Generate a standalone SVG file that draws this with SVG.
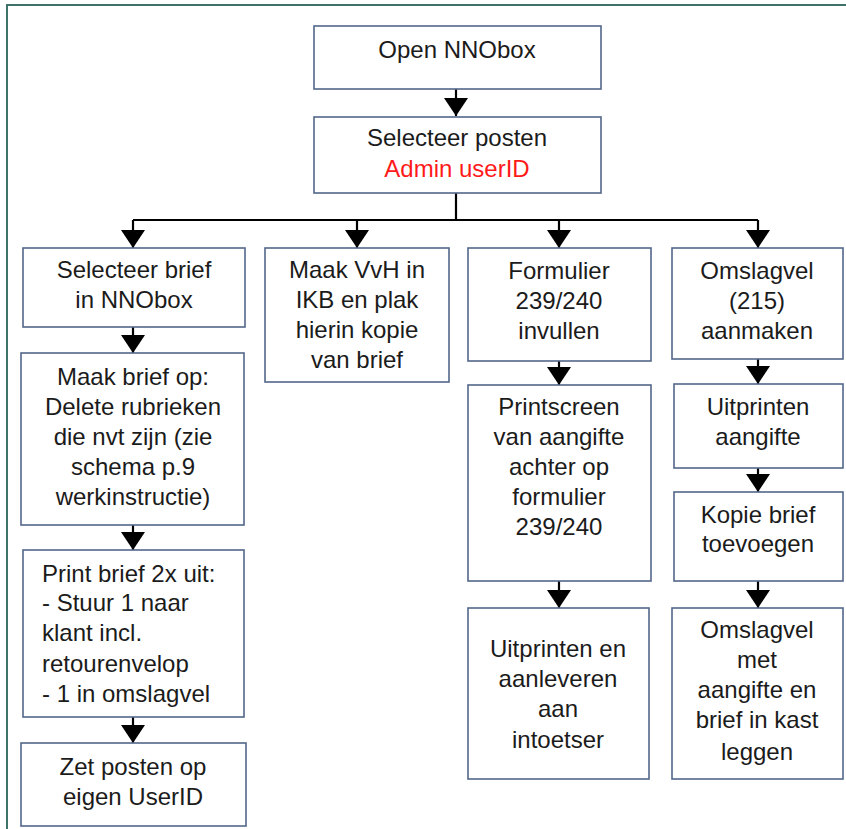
<svg xmlns="http://www.w3.org/2000/svg" width="846" height="829" viewBox="0 0 846 829">
  <style>
    .box { fill: #ffffff; stroke: #53678a; stroke-width: 1.6; }
    .t { font-family: "Liberation Sans", Arial, sans-serif; font-size: 24px; fill: #1b1b1b; text-anchor: middle; }
    .l { text-anchor: start; }
    .red { fill: #ff1a1a; }
    .conn { fill: none; stroke: #000000; stroke-width: 2.2; }
  </style>
  <defs>
    <marker id="arrow" markerUnits="userSpaceOnUse" viewBox="0 0 18 24" refX="18" refY="12" markerWidth="18" markerHeight="24" orient="auto">
      <path d="M0,0 L18,12 L0,24 z" fill="#000000"/>
    </marker>
  </defs>

  <rect x="0" y="0" width="846" height="829" fill="#ffffff"/>

  <!-- page frame -->
  <path d="M7,829 V5 H846" fill="none" stroke="#3f7268" stroke-width="2"/>

  <!-- connectors -->
  <g id="connectors">
    <path class="conn" d="M456,89 V116" marker-end="url(#arrow)"/>
    <path class="conn" d="M456,193 V220 M133,220 H758"/>
    <path class="conn" d="M133,220 V248" marker-end="url(#arrow)"/>
    <path class="conn" d="M357,220 V248" marker-end="url(#arrow)"/>
    <path class="conn" d="M559,220 V248" marker-end="url(#arrow)"/>
    <path class="conn" d="M758,220 V248" marker-end="url(#arrow)"/>
    <path class="conn" d="M133,327 V353" marker-end="url(#arrow)"/>
    <path class="conn" d="M133,525 V550" marker-end="url(#arrow)"/>
    <path class="conn" d="M133,717 V743" marker-end="url(#arrow)"/>
    <path class="conn" d="M559,361 V385" marker-end="url(#arrow)"/>
    <path class="conn" d="M559,581 V608" marker-end="url(#arrow)"/>
    <path class="conn" d="M758,359 V384" marker-end="url(#arrow)"/>
    <path class="conn" d="M758,468 V492" marker-end="url(#arrow)"/>
    <path class="conn" d="M758,581 V608" marker-end="url(#arrow)"/>
  </g>

  <g id="open-nnobox">
    <rect class="box" x="314" y="26" width="287" height="63"/>
    <text class="t" x="457" y="58">Open NNObox</text>
  </g>

  <g id="selecteer-posten">
    <rect class="box" x="314" y="117" width="287" height="76"/>
    <text class="t" x="457" y="146">Selecteer posten</text>
    <text class="t red" x="457" y="177">Admin userID</text>
  </g>

  <g id="selecteer-brief">
    <rect class="box" x="23" y="248" width="222" height="79"/>
    <text class="t" x="134" y="278">Selecteer brief</text>
    <text class="t" x="134" y="308">in NNObox</text>
  </g>

  <g id="maak-brief-op">
    <rect class="box" x="21" y="353" width="223" height="172"/>
    <text class="t" x="133" y="385">Maak brief op:</text>
    <text class="t" x="133" y="415">Delete rubrieken</text>
    <text class="t" x="133" y="445">die nvt zijn (zie</text>
    <text class="t" x="133" y="475">schema p.9</text>
    <text class="t" x="133" y="505">werkinstructie)</text>
  </g>

  <g id="print-brief">
    <rect class="box" x="23" y="550" width="221" height="167"/>
    <text class="t l" x="42" y="582">Print brief 2x uit:</text>
    <text class="t l" x="42" y="611">- Stuur 1 naar</text>
    <text class="t l" x="42" y="641">klant incl.</text>
    <text class="t l" x="42" y="672">retourenvelop</text>
    <text class="t l" x="42" y="702">- 1 in omslagvel</text>
  </g>

  <g id="zet-posten">
    <rect class="box" x="21" y="743" width="225" height="83"/>
    <text class="t" x="133" y="775">Zet posten op</text>
    <text class="t" x="133" y="805">eigen UserID</text>
  </g>

  <g id="maak-vvh">
    <rect class="box" x="265" y="248" width="184" height="134"/>
    <text class="t" x="357" y="278">Maak VvH in</text>
    <text class="t" x="357" y="308">IKB en plak</text>
    <text class="t" x="357" y="338">hierin kopie</text>
    <text class="t" x="357" y="368">van brief</text>
  </g>

  <g id="formulier">
    <rect class="box" x="468" y="248" width="183" height="113"/>
    <text class="t" x="559" y="279">Formulier</text>
    <text class="t" x="559" y="309">239/240</text>
    <text class="t" x="559" y="339">invullen</text>
  </g>

  <g id="printscreen">
    <rect class="box" x="468" y="385" width="183" height="196"/>
    <text class="t" x="559" y="415">Printscreen</text>
    <text class="t" x="559" y="445">van aangifte</text>
    <text class="t" x="559" y="475">achter op</text>
    <text class="t" x="559" y="505">formulier</text>
    <text class="t" x="559" y="535">239/240</text>
  </g>

  <g id="uitprinten-aanleveren">
    <rect class="box" x="468" y="608" width="181" height="171"/>
    <text class="t" x="558" y="657">Uitprinten en</text>
    <text class="t" x="558" y="687">aanleveren</text>
    <text class="t" x="558" y="717">aan</text>
    <text class="t" x="558" y="748">intoetser</text>
  </g>

  <g id="omslagvel-aanmaken">
    <rect class="box" x="672" y="248" width="171" height="111"/>
    <text class="t" x="757" y="279">Omslagvel</text>
    <text class="t" x="757" y="309">(215)</text>
    <text class="t" x="757" y="339">aanmaken</text>
  </g>

  <g id="uitprinten-aangifte">
    <rect class="box" x="674" y="384" width="169" height="84"/>
    <text class="t" x="758" y="415">Uitprinten</text>
    <text class="t" x="758" y="445">aangifte</text>
  </g>

  <g id="kopie-brief">
    <rect class="box" x="674" y="492" width="169" height="89"/>
    <text class="t" x="758" y="523">Kopie brief</text>
    <text class="t" x="758" y="552">toevoegen</text>
  </g>

  <g id="omslagvel-kast">
    <rect class="box" x="672" y="608" width="171" height="171"/>
    <text class="t" x="757" y="638">Omslagvel</text>
    <text class="t" x="757" y="668">met</text>
    <text class="t" x="757" y="698">aangifte en</text>
    <text class="t" x="757" y="728">brief in kast</text>
    <text class="t" x="757" y="760">leggen</text>
  </g>
</svg>
